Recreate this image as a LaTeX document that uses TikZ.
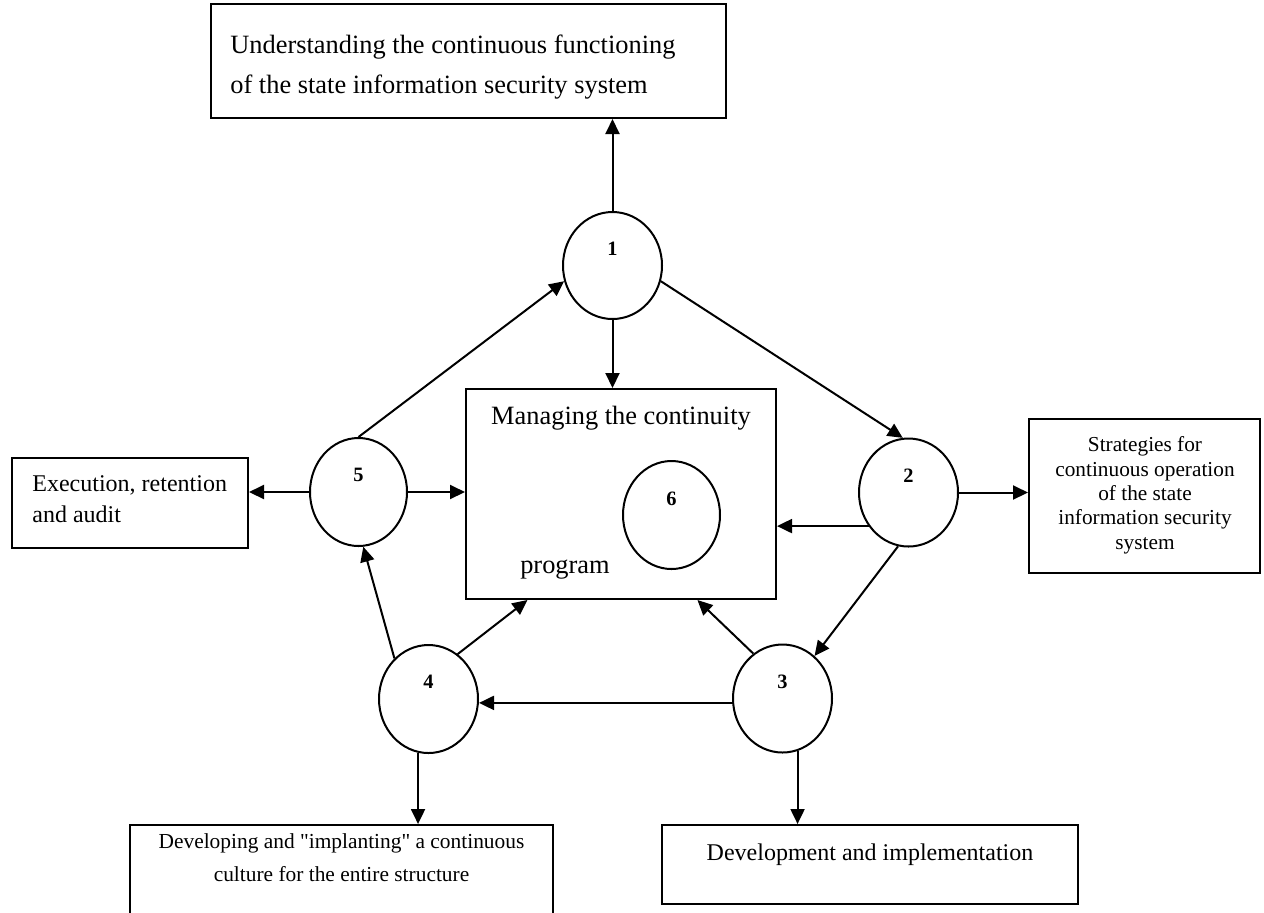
\documentclass[tikz,border=0pt]{standalone}
\usepackage{fontspec}
\setmainfont{Liberation Serif}[Ligatures=TeXOff]
\usetikzlibrary{arrows.meta,shapes.geometric,calc}

\begin{document}
\begin{tikzpicture}[x=0.5pt,y=-0.5pt,
  box/.style={draw,line width=1pt,inner sep=0pt},
  circ/.style={draw,ellipse,line width=1pt,minimum width=49.5pt,minimum height=54pt,inner sep=0pt},
  num/.style={font=\fontsize{10.2}{12}\selectfont\bfseries,anchor=base,inner sep=0pt},
  bigtext/.style={font=\fontsize{13.2}{20}\selectfont,inner sep=0pt},
  midtext/.style={font=\fontsize{12}{15.5}\selectfont,inner sep=0pt},
  smalltext/.style={font=\fontsize{10.65}{12.15}\selectfont,inner sep=0pt,align=center},
  arr/.style={line width=1pt,-{Triangle[length=7.5pt,width=7pt]}}
]
\fill[white] (0,0) rectangle (1264,912);
\useasboundingbox (0,0) rectangle (1264,912);

% boxes
\node[box,minimum width=257.5pt,minimum height=57pt] (top) at (468.5,61) {};
\node[box,minimum width=155pt,minimum height=105pt] (mbox) at (621,494) {};
\node[box,minimum width=118pt,minimum height=45pt] (lbox) at (130,503) {};
\node[box,minimum width=115.5pt,minimum height=77pt] (rbox) at (1144.5,496) {};
\node[box,minimum width=211.5pt,minimum height=45.5pt] (blbox) at (341.5,870.5) {};
\node[box,minimum width=208pt,minimum height=39.5pt] (brbox) at (870,864.5) {};

% box texts
\node[bigtext,align=left,anchor=north west] (toptext) at (230,35)
  {Understanding the continuous functioning\\of the state information security system};
\node[bigtext,anchor=base] (mtext1) at (621,424) {Managing the continuity};
\node[bigtext,anchor=base] (mtext2) at (565,573) {program};
\node[midtext,align=left,anchor=north west] (ltext) at (32,475.6)
  {Execution, retention\\and audit};
\node[smalltext,anchor=north] (rtext) at (1145,436.5)
  {Strategies for\\continuous operation\\of the state\\information security\\system};
\node[font=\fontsize{10.7}{16.25}\selectfont,inner sep=0pt,align=center,anchor=north] (bltext) at (341.5,833.4)
  {Developing and "implanting" a continuous\\culture for the entire structure};
\node[midtext,anchor=base] (brtext) at (870,860) {Development and implementation};

% circles
\node[circ,minimum height=53.5pt] (c1) at (612.5,265.5) {};
\node[circ] (c2) at (908.5,492.5) {};
\node[circ] (c3) at (782.5,698.5) {};
\node[circ] (c4) at (428.5,699) {};
\node[circ,minimum width=48.5pt] (c5) at (358.5,492) {};
\node[circ,minimum width=48.5pt] (c6) at (671.5,515) {};

\node[num] (n1) at (612.5,255) {1};
\node[num] (n2) at (908.5,482) {2};
\node[num] (n3) at (782.5,688) {3};
\node[num] (n4) at (428.5,688.5) {4};
\node[num] (n5) at (358.5,481.5) {5};
\node[num] (n6) at (671.5,505) {6};

% connectors
\draw[arr] (c1.north) -- (c1.north |- top.south);
\draw[arr] (c1.south) -- (c1.south |- mbox.north);
\draw[arr] (c1.-18) -- (c2.96);
\draw[arr] (c2.east) -- (c2.east -| rbox.west);
\draw[arr] (c2.220) -- (c2.220 -| mbox.east);
\draw[arr] (c2.259) -- (c3.53);
\draw[arr] (c3.123) -- ($(mbox.south west)!0.745!(mbox.south east)$);
\draw[arr] (c3.185) -- (c3.185 -| c4.east);
\draw[arr] (c3.286) -- (c3.286 |- brbox.north);
\draw[arr] (c4.57) -- ($(mbox.south west)!0.2!(mbox.south east)$);
\draw[arr] (c4.130) -- (c5.275);
\draw[arr] (c4.259) -- (c4.259 |- blbox.north);
\draw[arr] (c5.north) -- (c1.198);
\draw[arr] (c5.west) -- (c5.west -| lbox.east);
\draw[arr] (c5.east) -- (c5.east -| mbox.west);
\end{tikzpicture}
\end{document}
